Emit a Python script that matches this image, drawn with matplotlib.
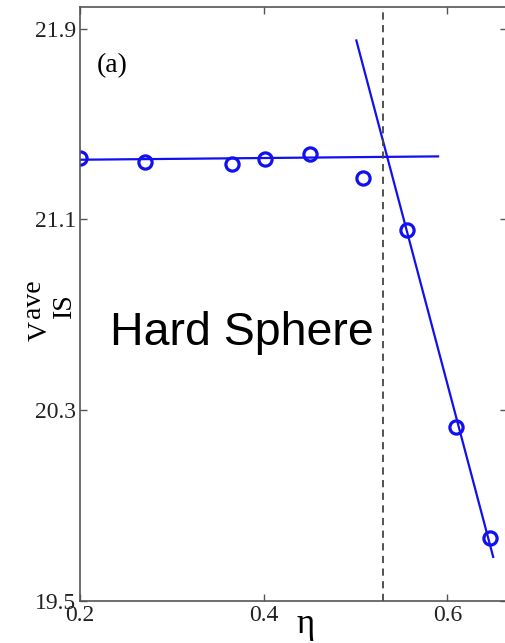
import matplotlib.pyplot as plt
import numpy as np

# packing fraction and average inherent-structure volume
eta = [0.200, 0.271, 0.366, 0.402, 0.451, 0.508, 0.556, 0.609, 0.646]
v_ave = [21.359, 21.342, 21.334, 21.355, 21.376, 21.275, 21.057, 20.230, 19.765]

# straight-line fits (end points) for the two regimes
fit_fluid_eta = [0.200, 0.590]
fit_fluid_v = [21.350, 21.364]
fit_glass_eta = [0.501, 0.650]
fit_glass_v = [21.850, 19.685]

eta_cross = 0.530

xticks = [0.2, 0.4, 0.6]
yticks = [19.5, 20.3, 21.1, 21.9]

blue = '#1010f0'
serif = 'Liberation Serif'
W, H = 506, 643


def px(x, y):
    # pixel position (from top-left) -> figure fraction
    return x / W, 1 - y / H


fig = plt.figure(figsize=(W / 100, H / 100), dpi=100)
ax = fig.add_axes([0.158, 0.0653, 0.8439, 0.9237])

ax.plot(fit_fluid_eta, fit_fluid_v, color=blue, lw=1.6)
ax.plot(fit_glass_eta, fit_glass_v, color=blue, lw=1.6)
ax.plot(eta, v_ave, 'o', ms=9.5, mfc='none', mec=blue, mew=2.3, ls='none')
ax.axvline(eta_cross, color='#444444', lw=1.3, ls=(0, (4, 3)))

ax.set_xlim(0.2, 0.665)
ax.set_ylim(19.5, 21.99)
ax.set_xticks(xticks)
ax.set_yticks(yticks)
ax.set_xticklabels([f'{t:.1f}' for t in xticks], family=serif, fontsize=17, color='#222222')
ax.set_yticklabels([f'{t:.1f}' for t in yticks], family=serif, fontsize=17, color='#222222')
ax.tick_params(direction='in', length=5, width=1, color='#555555',
               top=True, right=True, pad=3)

for s in ax.spines.values():
    s.set_color('#555555')
    s.set_linewidth(1.2)

# axis labels: V with "ave" above and "IS" below, written as separate pieces
fig.text(*px(40, 331), 'V', family=serif, fontsize=20, rotation=90,
         ha='center', va='center')
fig.text(*px(33.5, 299), 'ave', family=serif, fontsize=20, rotation=90,
         ha='center', va='center')
fig.text(*px(64.5, 305.5), 'IS', family=serif, fontsize=20, rotation=90,
         ha='center', va='center')
fig.text(*px(306, 633), 'η', family=serif, fontsize=25, ha='center', va='baseline')

fig.text(*px(97, 72), '(a)', family=serif, fontsize=20, ha='left', va='baseline')
fig.text(*px(110, 345), 'Hard Sphere', family='Liberation Sans', fontsize=33.5,
         ha='left', va='baseline')

fig.savefig('out.png', dpi=100)
